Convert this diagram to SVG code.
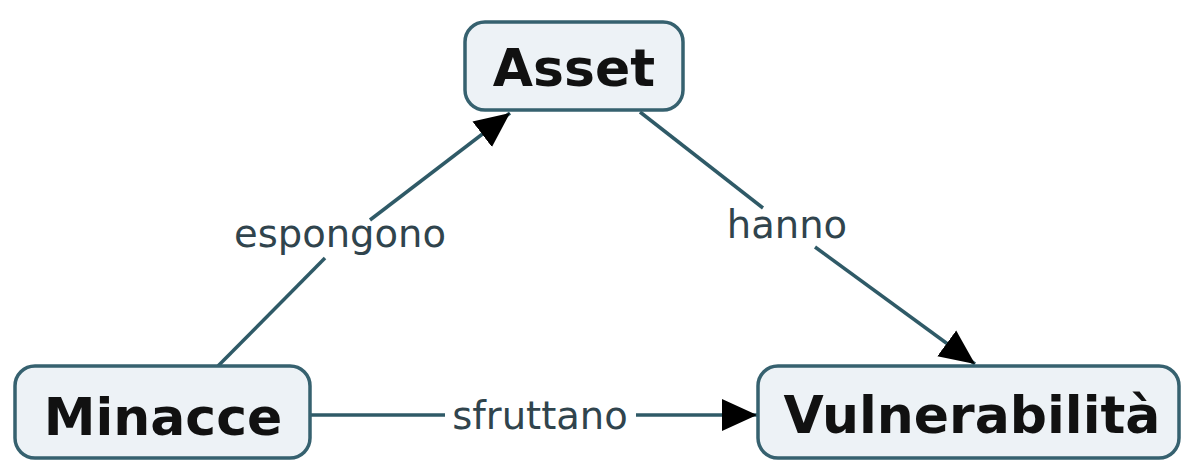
<svg xmlns="http://www.w3.org/2000/svg" width="1182" height="460" viewBox="0 0 1182 460">
  <style>
    .box { fill: #edf2f6; stroke: #36616f; stroke-width: 3.5; }
    .title { font-family: "DejaVu Sans", Verdana, sans-serif; font-weight: bold; font-size: 52px; fill: #111111; text-anchor: middle; }
    .link { stroke: #2f5a67; stroke-width: 3.5; fill: none; }
    .label { font-family: "DejaVu Sans", Verdana, sans-serif; font-size: 38.5px; fill: #30444d; text-anchor: middle; }
  </style>
  <defs>
    <marker id="arrow" markerUnits="userSpaceOnUse" markerWidth="38" markerHeight="34" refX="35" refY="17" orient="auto">
      <path d="M0,1 L35,17 L0,33 z" fill="#000000"/>
    </marker>
  </defs>
  <rect width="1182" height="460" fill="#ffffff"/>

  <!-- connectors: node to label, label to node -->
  <g id="connectors">
    <line class="link" x1="218" y1="366" x2="325" y2="258"/>
    <line class="link" x1="370" y1="220" x2="510" y2="113" marker-end="url(#arrow)"/>
    <text class="label" x="340" y="247">espongono</text>

    <line class="link" x1="640" y1="112" x2="763" y2="208"/>
    <line class="link" x1="815" y1="247" x2="975" y2="364" marker-end="url(#arrow)"/>
    <text class="label" x="787" y="238">hanno</text>

    <line class="link" x1="311" y1="415" x2="445" y2="415"/>
    <line class="link" x1="636" y1="415" x2="757" y2="415" marker-end="url(#arrow)"/>
    <text class="label" x="540" y="429">sfruttano</text>
  </g>

  <g id="asset">
    <rect class="box" x="465" y="22" width="218" height="88" rx="20" ry="20"/>
    <text class="title" x="574" y="86">Asset</text>
  </g>

  <g id="minacce">
    <rect class="box" x="15" y="366" width="295" height="92" rx="20" ry="20"/>
    <text class="title" x="163" y="435">Minacce</text>
  </g>

  <g id="vulnerabilita">
    <rect class="box" x="758" y="366" width="421" height="92" rx="20" ry="20"/>
    <text class="title" x="972" y="433">Vulnerabilità</text>
  </g>
</svg>
